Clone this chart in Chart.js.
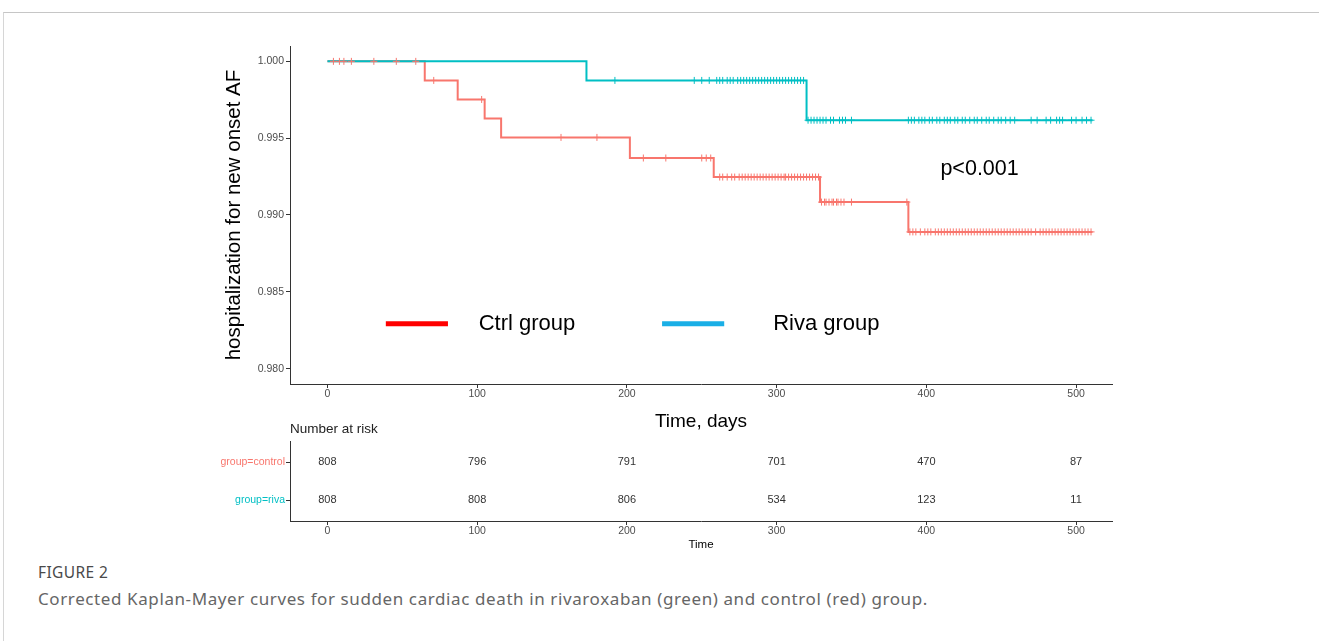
<!DOCTYPE html>
<html>
<head>
<meta charset="utf-8">
<title>Kaplan-Meier</title>
<script src="https://cdn.jsdelivr.net/npm/chart.js@4.4.1/dist/chart.umd.min.js"></script>
<style>
  html, body { margin: 0; padding: 0; background: #fff; }
  body { width: 1319px; height: 641px; position: relative; overflow: hidden; font-family: Arial, "Liberation Sans", sans-serif; }
  .frame { position: absolute; left: 3px; top: 12px; right: -2px; bottom: -2px; border-top: 1px solid #c6c6c6; border-left: 1px solid #d6d6d6; }
  #kmWrap { position: absolute; left: 222px; top: 20px; width: 940px; height: 413px; }
  #riskWrap { position: absolute; left: 200px; top: 421px; width: 962px; height: 131px; }
  .fig { position: absolute; left: 38px; top: 561px; font: 15.5px "Noto Sans", sans-serif; color: #4a4a4a; letter-spacing: 0.4px; }
  .cap { position: absolute; left: 38px; top: 587px; font: 17px "Noto Sans", sans-serif; color: #666; letter-spacing: 0.6px; }
</style>
</head>
<body>
<div class="frame"></div>
<div id="kmWrap"><canvas id="kmChart"></canvas></div>
<div id="riskWrap"><canvas id="riskChart"></canvas></div>
<div class="fig">FIGURE 2</div>
<div class="cap">Corrected Kaplan-Mayer curves for sudden cardiac death in rivaroxaban (green) and control (red) group.</div>
<script>
// survival curves (time in days, survival probability after each event)
const ctrlTimes = [0, 65, 87, 105, 116, 202, 258, 329, 388, 511];
const ctrlSurv = [1.0, 0.99876, 0.99752, 0.99628, 0.99505, 0.99371, 0.99247, 0.99084, 0.98890, 0.98890];
const rivaTimes = [0, 173, 320, 511];
const rivaSurv = [1.0, 0.99876, 0.99617, 0.99617];

// censoring times
const ctrlCensor = [4, 8, 11, 16, 31, 46, 59, 71, 103, 156, 180, 211, 226, 250, 253, 256,
  262, 264, 267, 270, 272, 275, 277, 279, 281, 283, 285, 287, 289, 291, 293, 295, 297, 299,
  301, 303, 305, 306, 308, 310, 312, 314, 316, 318, 320, 322, 324, 326, 328,
  330, 332, 333, 335, 337, 338, 340, 341, 343, 345, 350, 387,
  389, 391, 393, 396, 399, 401, 403, 406, 408, 410, 412, 414, 416, 418, 420, 422, 424, 426,
  428, 430, 432, 434, 436, 438, 440, 442, 444, 446, 448, 450, 452, 454, 456, 458, 460, 462,
  464, 466, 468, 470, 473, 476, 478, 480, 482, 484, 486, 488, 490, 492, 494, 496, 498, 500,
  502, 504, 506, 508, 510];
const rivaCensor = [192, 245, 250, 255, 260, 262, 264, 267, 269, 271, 274, 276, 278, 280, 282,
  284, 286, 288, 290, 292, 294, 296, 298, 300, 302, 304, 306, 308, 310, 312, 314, 316, 318,
  321, 323, 325, 327, 329, 331, 333, 336, 338, 342, 344, 346, 350,
  388, 390, 392, 395, 397, 399, 402, 404, 407, 409, 412, 414, 416, 419, 421, 424, 426, 429,
  432, 434, 437, 440, 442, 445, 448, 450, 453, 456, 459, 470, 474, 480, 483, 487, 489, 491,
  497, 500, 504, 507, 510];

// number at risk
const riskTimes = [0, 100, 200, 300, 400, 500];
const riskCtrl = [808, 796, 791, 701, 470, 87];
const riskRiva = [808, 808, 806, 534, 123, 11];
const riskGroups = ['group=control', 'group=riva'];

const xTicks = [0, 100, 200, 300, 400, 500];
const yTicks = [0.980, 0.985, 0.990, 0.995, 1.000];
const legendLabels = ['Ctrl group', 'Riva group'];
const pText = 'p<0.001';

const CTRL = '#F8766D';
const RIVA = '#00BFC4';
const legendColors = ['#FF0000', '#1AAFE6'];

function survAt(times, surv, t) {
  let s = surv[0];
  for (let i = 0; i < times.length; i++) {
    if (times[i] <= t) s = surv[i];
  }
  return s;
}
const curve = (times, surv) => times.map((t, i) => ({ x: t, y: surv[i] }));
const marks = (cens, times, surv) => cens.map(t => ({ x: t, y: survAt(times, surv, t) }));

const axisX = (titleText, titleSize, h) => ({
  type: 'linear', min: -25, max: 524,
  afterBuildTicks: s => { s.ticks = xTicks.map(v => ({ value: v })); },
  afterFit: s => { s.height = h; },
  grid: { drawOnChartArea: false, tickLength: 4, color: '#333' },
  border: { color: '#333', width: 1 },
  ticks: { color: '#4d4d4d', font: { size: 10.5 }, padding: 0, maxRotation: 0 },
  title: { display: true, text: titleText, color: '#000', font: { size: titleSize }, padding: 0 }
});

const kmNotes = {
  id: 'kmNotes',
  afterDraw(chart) {
    const { ctx, scales: { x, y } } = chart;
    const ly = y.getPixelForValue(0.98292);
    const from = [39, 223.5], to = [80.5, 265], at = [101, 297.7];
    ctx.save();
    ctx.textBaseline = 'middle';
    ctx.font = '22px Arial, "Liberation Sans"';
    legendLabels.forEach((lab, i) => {
      ctx.strokeStyle = legendColors[i];
      ctx.lineWidth = 5;
      ctx.beginPath();
      ctx.moveTo(x.getPixelForValue(from[i]), ly);
      ctx.lineTo(x.getPixelForValue(to[i]), ly);
      ctx.stroke();
      ctx.fillStyle = '#000';
      ctx.fillText(lab, x.getPixelForValue(at[i]), ly);
    });
    ctx.font = '21.5px Arial, "Liberation Sans"';
    ctx.fillText(pText, x.getPixelForValue(409.4), y.getPixelForValue(0.99296));
    ctx.restore();
  }
};

new Chart(document.getElementById('kmChart'), {
  type: 'scatter',
  data: {
    datasets: [
      { label: 'ctrl censor', data: marks(ctrlCensor, ctrlTimes, ctrlSurv), pointStyle: 'cross',
        pointRadius: 3.5, borderColor: CTRL, borderWidth: 1, order: 0 },
      { label: 'riva censor', data: marks(rivaCensor, rivaTimes, rivaSurv), pointStyle: 'cross',
        pointRadius: 3.5, borderColor: RIVA, borderWidth: 1, order: 1 },
      { label: 'Riva group', data: curve(rivaTimes, rivaSurv), showLine: true, stepped: true,
        borderColor: RIVA, borderWidth: 2, pointRadius: 0, order: 2 },
      { label: 'Ctrl group', data: curve(ctrlTimes, ctrlSurv), showLine: true, stepped: true,
        borderColor: CTRL, borderWidth: 2, pointRadius: 0, order: 3 }
    ]
  },
  options: {
    responsive: true,
    maintainAspectRatio: false,
    animation: false,
    layout: { padding: { top: 26, right: 50, bottom: 0, left: 0 } },
    plugins: { legend: { display: false }, tooltip: { enabled: false } },
    scales: {
      x: axisX('Time, days', 19, 49),
      y: {
        min: 0.979, max: 1.001,
        afterBuildTicks: s => { s.ticks = yTicks.map(v => ({ value: v })); },
        afterFit: s => { s.width = 68; },
        grid: { drawOnChartArea: false, tickLength: 4, color: '#333' },
        border: { color: '#333', width: 1 },
        ticks: { color: '#4d4d4d', font: { size: 10.5 }, padding: 2, callback: v => v.toFixed(3) },
        title: { display: true, text: 'hospitalization for new onset AF', color: '#000', font: { size: 20.5 }, padding: 0 }
      }
    }
  },
  plugins: [kmNotes]
});

const riskNumbers = {
  id: 'riskNumbers',
  afterDatasetsDraw(chart) {
    const { ctx } = chart;
    ctx.save();
    ctx.font = '11px Arial, "Liberation Sans"';
    ctx.fillStyle = '#333';
    ctx.textAlign = 'center';
    ctx.textBaseline = 'middle';
    chart.data.datasets.forEach((ds, i) => {
      chart.getDatasetMeta(i).data.forEach((pt, j) => {
        ctx.fillText(String(ds.data[j].n), pt.x, pt.y);
      });
    });
    ctx.restore();
  }
};

new Chart(document.getElementById('riskChart'), {
  type: 'scatter',
  data: {
    datasets: [
      { data: riskTimes.map((t, i) => ({ x: t, y: 1, n: riskCtrl[i] })), pointRadius: 0 },
      { data: riskTimes.map((t, i) => ({ x: t, y: 2, n: riskRiva[i] })), pointRadius: 0 }
    ]
  },
  options: {
    responsive: true,
    maintainAspectRatio: false,
    animation: false,
    layout: { padding: { top: 0, right: 50, bottom: 0, left: 0 } },
    plugins: {
      legend: { display: false },
      tooltip: { enabled: false },
      title: { display: true, text: 'Number at risk', align: 'start', fullSize: false, color: '#222',
        font: { size: 13.5, weight: 'normal' }, padding: { top: 0, bottom: 4.4 } }
    },
    scales: {
      x: axisX('Time', 11.5, 31),
      y: {
        min: 0.45, max: 2.55, reverse: true,
        afterBuildTicks: s => { s.ticks = [{ value: 1 }, { value: 2 }]; },
        afterFit: s => { s.width = 90; },
        grid: { drawOnChartArea: false, tickLength: 4, color: '#333' },
        border: { color: '#333', width: 1 },
        ticks: { font: { size: 10.5 }, padding: 1,
          color: c => (c.index === 0 ? CTRL : RIVA),
          callback: v => riskGroups[v - 1] }
      }
    }
  },
  plugins: [riskNumbers]
});
</script>
</body>
</html>
